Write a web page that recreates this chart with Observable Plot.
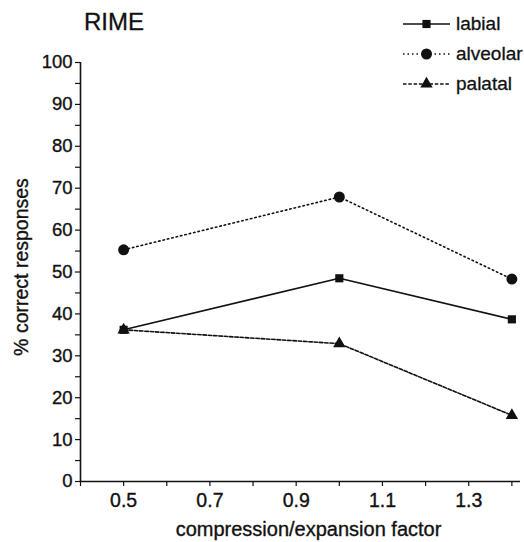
<!DOCTYPE html>
<html>
<head>
<meta charset="utf-8">
<script src="https://cdn.jsdelivr.net/npm/d3@7"></script>
<script src="https://cdn.jsdelivr.net/npm/@observablehq/plot@0.6"></script>
<style>
  html, body { margin: 0; padding: 0; background: #fff; }
  #wrap { position: relative; width: 524px; height: 542px; font-family: "Liberation Sans", Arial, sans-serif; color: #111; overflow: hidden; }
  #title { position: absolute; left: 84px; top: 8px; font-size: 24px; -webkit-text-stroke: 0.3px #111; }
  #legend { position: absolute; left: 402px; top: 9px; font-size: 19px; white-space: nowrap; -webkit-text-stroke: 0.3px #111; }
  #legend .row { display: flex; align-items: center; height: 30px; }
  #legend svg { margin-right: 5px; }
</style>
</head>
<body>
<div id="wrap">
  <div id="chart"></div>
  <div id="title">RIME</div>
  <div id="legend"></div>
</div>
<script>
// Data
const factors = [0.5, 1.0, 1.4];
const labial = [36.2, 48.5, 38.7];
const alveolar = [55.3, 67.9, 48.3];
const palatal = [36.2, 32.9, 15.8];
const seriesNames = ["labial", "alveolar", "palatal"];
const xTicks = [0.4, 0.5, 0.6, 0.7, 0.8, 0.9, 1.0, 1.1, 1.2, 1.3, 1.4];
const xTickLabels = ["", "0.5", "", "0.7", "", "0.9", "", "1.1", "", "1.3", ""];
const yTicks = [0, 5, 10, 15, 20, 25, 30, 35, 40, 45, 50, 55, 60, 65, 70, 75, 80, 85, 90, 95, 100];

const styles = {
  labial:   {dash: null,  symbol: "square",   r: 4.6},
  alveolar: {dash: "1.5,3", symbol: "circle", r: 5.5},
  palatal:  {dash: "3.5,1.8", symbol: "triangle", r: 4.6}
};
const valuesBy = {labial, alveolar, palatal};
const rows = seriesNames.flatMap(s => factors.map((f, i) => ({series: s, x: f, y: valuesBy[s][i]})));

const marks = [];
for (const s of seriesNames) {
  const d = rows.filter(r => r.series === s);
  marks.push(Plot.line(d, {x: "x", y: "y", stroke: "#111", strokeWidth: 1.6, strokeDasharray: styles[s].dash}));
}
for (const s of seriesNames) {
  const d = rows.filter(r => r.series === s);
  marks.push(Plot.dot(d, {x: "x", y: "y", fill: "#111", stroke: "none", symbol: () => styles[s].symbol, r: styles[s].r}));
}

const textStroke = {stroke: "#111", strokeWidth: 0.35};

const chart = Plot.plot({
  width: 524,
  height: 542,
  marginLeft: 80,
  marginRight: 4,
  marginTop: 62,
  marginBottom: 61,
  style: {fontFamily: "Liberation Sans, Arial, sans-serif", background: "white", color: "#111"},
  x: {domain: [0.4, 1.42]},
  y: {domain: [0, 100]},
  symbol: {type: "identity"},
  marks: [
    Plot.axisX({ticks: xTicks, tickFormat: (d, i) => xTickLabels[i], tickSize: 5, tickPadding: 7, fontSize: 19.5, label: null, strokeWidth: 1.2, textStroke: "#111", textStrokeWidth: 0.35, textStrokeOpacity: 1}),
    Plot.axisY({ticks: yTicks, tickFormat: d => d % 10 === 0 ? String(d) : "", tickSize: 5, tickPadding: 3, fontSize: 18.5, label: null, strokeWidth: 1.2, textStroke: "#111", textStrokeWidth: 0.35, textStrokeOpacity: 1}),
    Plot.ruleX([0.4], {stroke: "#111", strokeWidth: 1.6}),
    Plot.ruleY([0], {stroke: "#111", strokeWidth: 1.6}),
    Plot.text(["compression/expansion factor"], {frameAnchor: "bottom", lineAnchor: "middle", textAnchor: "middle", dx: 8, dy: 48, fontSize: 20, fill: "#111", ...textStroke}),
    Plot.text(["% correct responses"], {frameAnchor: "left", lineAnchor: "middle", textAnchor: "middle", dx: -59, dy: -5, rotate: -90, fontSize: 19.5, fill: "#111", ...textStroke}),
    ...marks
  ]
});
document.getElementById("chart").appendChild(chart);

// Legend
const legend = d3.select("#legend");
for (const s of seriesNames) {
  const row = legend.append("div").attr("class", "row");
  const svg = row.append("svg").attr("width", 49).attr("height", 16);
  svg.append("line").attr("x1", 1).attr("x2", 48).attr("y1", 8).attr("y2", 8)
    .attr("stroke", "#111").attr("stroke-width", 1.4)
    .attr("stroke-dasharray", styles[s].dash);
  const sym = {square: d3.symbolSquare, circle: d3.symbolCircle, triangle: d3.symbolTriangle}[styles[s].symbol];
  svg.append("path").attr("transform", "translate(24.5,8)")
    .attr("d", d3.symbol(sym, Math.PI * styles[s].r * styles[s].r)())
    .attr("fill", "#111");
  row.append("span").text(s);
}
</script>
</body>
</html>
